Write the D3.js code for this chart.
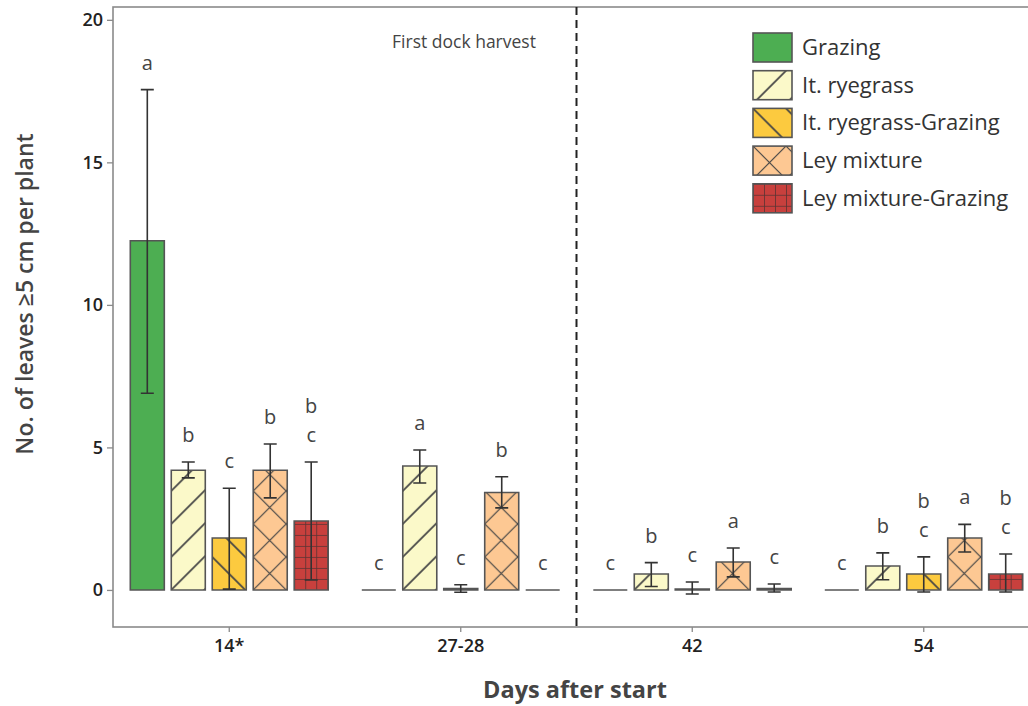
<!DOCTYPE html>
<html>
<head>
<meta charset="utf-8">
<script src="https://cdn.jsdelivr.net/npm/d3@7"></script>
<style>
  body { margin: 0; background: #fff; }
  svg { display: block; font-family: "Open Sans", "Noto Sans", sans-serif; }
</style>
</head>
<body>
<div id="chart"></div>
<script>
const WIDTH = 1028;
const HEIGHT = 706;

// data
const days = ["14*", "27-28", "42", "54"];
const treatments = ["Grazing", "It. ryegrass", "It. ryegrass-Grazing", "Ley mixture", "Ley mixture-Grazing"];

const meanGrazing = [12.25, 0, 0, 0];
const meanRyegrass = [4.2, 4.35, 0.56, 0.84];
const meanRyegrassGrazing = [1.82, 0.05, 0.03, 0.56];
const meanLey = [4.2, 3.42, 0.98, 1.82];
const meanLeyGrazing = [2.42, 0, 0.05, 0.56];

const lowGrazing = [6.9, null, null, null];
const highGrazing = [17.55, null, null, null];
const lowRyegrass = [3.93, 3.75, 0.12, 0.36];
const highRyegrass = [4.49, 4.91, 0.96, 1.3];
const lowRyegrassGrazing = [0.03, -0.08, -0.14, -0.07];
const highRyegrassGrazing = [3.57, 0.18, 0.28, 1.16];
const lowLey = [3.23, 2.88, 0.46, 1.33];
const highLey = [5.12, 3.97, 1.47, 2.3];
const lowLeyGrazing = [0.35, null, -0.07, -0.07];
const highLeyGrazing = [4.49, null, 0.21, 1.26];

const lettersGrazing = ["a", "c", "c", "c"];
const lettersRyegrass = ["b", "a", "b", "b"];
const lettersRyegrassGrazing = ["c", "c", "c", "bc"];
const lettersLey = ["b", "b", "a", "a"];
const lettersLeyGrazing = ["bc", "c", "c", "bc"];

const yTicks = [0, 5, 10, 15, 20];

const fills = ["#4dae52", "#fbf9c9", "#fcca3f", "#fdc893", "#c8403d"];
const patternIds = [null, "p-rye", "p-ryegr", "p-ley", "p-leygr"];

const means = [meanGrazing, meanRyegrass, meanRyegrassGrazing, meanLey, meanLeyGrazing];
const lows = [lowGrazing, lowRyegrass, lowRyegrassGrazing, lowLey, lowLeyGrazing];
const highs = [highGrazing, highRyegrass, highRyegrassGrazing, highLey, highLeyGrazing];
const letters = [lettersGrazing, lettersRyegrass, lettersRyegrassGrazing, lettersLey, lettersLeyGrazing];

const rows = [];
days.forEach((day, j) => {
  treatments.forEach((t, i) => {
    rows.push({ day, t, i, mean: means[i][j], low: lows[i][j], high: highs[i][j], letter: letters[i][j] });
  });
});

const PLOT = { left: 113, top: 7, right: 1040, bottom: 627 };

const svg = d3.select("#chart").append("svg")
  .attr("width", WIDTH)
  .attr("height", HEIGHT);

// hatch patterns
const defs = svg.append("defs");
const S = 33;
const hatchColor = "#454545";

function makePattern(id, bg, size, draw) {
  const p = defs.append("pattern")
    .attr("id", id)
    .attr("patternUnits", "userSpaceOnUse")
    .attr("width", size)
    .attr("height", size);
  p.append("rect").attr("width", size).attr("height", size).attr("fill", bg);
  draw(p);
}

makePattern("p-rye", fills[1], S, p => {
  p.append("path")
    .attr("d", `M0,${S} L${S},0 M-2,2 L2,-2 M${S - 2},${S + 2} L${S + 2},${S - 2}`)
    .attr("stroke", hatchColor).attr("stroke-width", 1.7);
});
makePattern("p-ryegr", fills[2], S, p => {
  p.append("path")
    .attr("d", `M0,0 L${S},${S} M-2,${S - 2} L2,${S + 2} M${S - 2},-2 L${S + 2},2`)
    .attr("stroke", hatchColor).attr("stroke-width", 1.7);
});
makePattern("p-ley", fills[3], S, p => {
  p.append("path")
    .attr("d", `M0,0 L${S},${S} M0,${S} L${S},0`)
    .attr("stroke", hatchColor).attr("stroke-width", 1.2);
});
makePattern("p-leygr", fills[4], 11, p => {
  p.append("path")
    .attr("d", "M0,0 H11 M0,0 V11")
    .attr("stroke", "#5a3333").attr("stroke-width", 1.6);
});

function fillFor(i) {
  return patternIds[i] ? `url(#${patternIds[i]})` : fills[i];
}

// scales
const y = d3.scaleLinear()
  .domain([-1.3, 20.45])
  .range([PLOT.bottom, PLOT.top]);

const x0 = d3.scaleBand()
  .domain(days)
  .range([113.5, 1039.5]);

const x1 = d3.scaleBand()
  .domain(treatments)
  .range([0, x0.bandwidth()])
  .paddingInner(0.17)
  .paddingOuter(0.41);

// panel frame
svg.append("rect")
  .attr("x", PLOT.left)
  .attr("y", PLOT.top)
  .attr("width", PLOT.right - PLOT.left)
  .attr("height", PLOT.bottom - PLOT.top)
  .attr("fill", "none")
  .attr("stroke", "#8a8a8a")
  .attr("stroke-width", 1.6);

// y axis
const yAxis = svg.append("g")
  .attr("transform", `translate(${PLOT.left}, 0)`)
  .call(d3.axisLeft(y).tickValues(yTicks).tickSize(6).tickPadding(4));
yAxis.select(".domain").remove();
yAxis.selectAll(".tick line").attr("stroke", "#8a8a8a").attr("stroke-width", 1.3);
yAxis.selectAll(".tick text")
  .attr("font-size", 18)
  .attr("font-weight", 600)
  .attr("fill", "#222")
  .attr("font-family", "Open Sans, sans-serif");

// x axis
const xAxis = svg.append("g")
  .attr("transform", `translate(0, ${PLOT.bottom})`)
  .call(d3.axisBottom(x0).tickSize(5).tickPadding(7));
xAxis.select(".domain").remove();
xAxis.selectAll(".tick line").attr("stroke", "#8a8a8a").attr("stroke-width", 1.3);
xAxis.selectAll(".tick text")
  .attr("font-size", 18)
  .attr("font-weight", 600)
  .attr("fill", "#222")
  .attr("font-family", "Open Sans, sans-serif");

// harvest divider
const divX = (x0("27-28") + x0.bandwidth() / 2 + x0("42") + x0.bandwidth() / 2) / 2;
svg.append("line")
  .attr("x1", divX).attr("x2", divX)
  .attr("y1", PLOT.top).attr("y2", PLOT.bottom)
  .attr("stroke", "#222")
  .attr("stroke-width", 2)
  .attr("stroke-dasharray", "8,5");

svg.append("text")
  .attr("x", 464)
  .attr("y", 48)
  .attr("text-anchor", "middle")
  .attr("font-size", 17.5)
  .attr("fill", "#444")
  .text("First dock harvest");

// bars
const bars = svg.append("g")
  .selectAll("g")
  .data(rows)
  .join("g")
    .attr("transform", d => `translate(${x0(d.day) + x1(d.t)}, ${y(0)})`);

const bw = x1.bandwidth();

bars.append("path")
  .attr("d", d => {
    const h = y(0) - y(d.mean);
    return `M0,0 V${-h} H${bw} V0 Z`;
  })
  .attr("fill", d => fillFor(d.i))
  .attr("stroke", "#555")
  .attr("stroke-width", 1.6);

// error bars
const errs = bars.filter(d => d.low !== null);
const cap = 6.5;
errs.append("path")
  .attr("d", d => {
    const lo = y(d.low) - y(0), hi = y(d.high) - y(0), c = bw / 2;
    return `M${c},${lo} V${hi} M${c - cap},${hi} H${c + cap} M${c - cap},${lo} H${c + cap}`;
  })
  .attr("fill", "none")
  .attr("stroke", "#333")
  .attr("stroke-width", 1.6);

// significance letters
bars.each(function (d) {
  const top = d.high !== null ? d.high : Math.max(d.mean, 0);
  const base = y(top) - y(0) - 20;
  const parts = d.letter.split("");
  const g = d3.select(this);
  parts.forEach((ch, k) => {
    g.append("text")
      .attr("x", bw / 2)
      .attr("y", base - (parts.length - 1 - k) * 29)
      .attr("text-anchor", "middle")
      .attr("font-size", 20)
      .attr("fill", "#444")
      .text(ch);
  });
});

// legend
const legend = svg.append("g")
  .attr("transform", "translate(753, 33)");

const items = legend.selectAll("g")
  .data(treatments)
  .join("g")
    .attr("transform", (d, i) => `translate(0, ${i * 37.7})`);

items.append("rect")
  .attr("width", 39)
  .attr("height", 29)
  .attr("fill", (d, i) => fillFor(i))
  .attr("stroke", "#555")
  .attr("stroke-width", 1.6);

items.append("text")
  .attr("x", 49)
  .attr("y", 22)
  .attr("font-size", 22)
  .attr("fill", "#333")
  .text(d => d);

// axis titles
svg.append("text")
  .attr("transform", "translate(33, 294) rotate(-90)")
  .attr("text-anchor", "middle")
  .attr("font-size", 23)
  .attr("font-weight", 600)
  .attr("fill", "#444")
  .text("No. of leaves \u22655 cm per plant");

svg.append("text")
  .attr("x", 575)
  .attr("y", 698)
  .attr("text-anchor", "middle")
  .attr("font-size", 23.5)
  .attr("font-weight", "bold")
  .attr("fill", "#444")
  .text("Days after start");
</script>
</body>
</html>
